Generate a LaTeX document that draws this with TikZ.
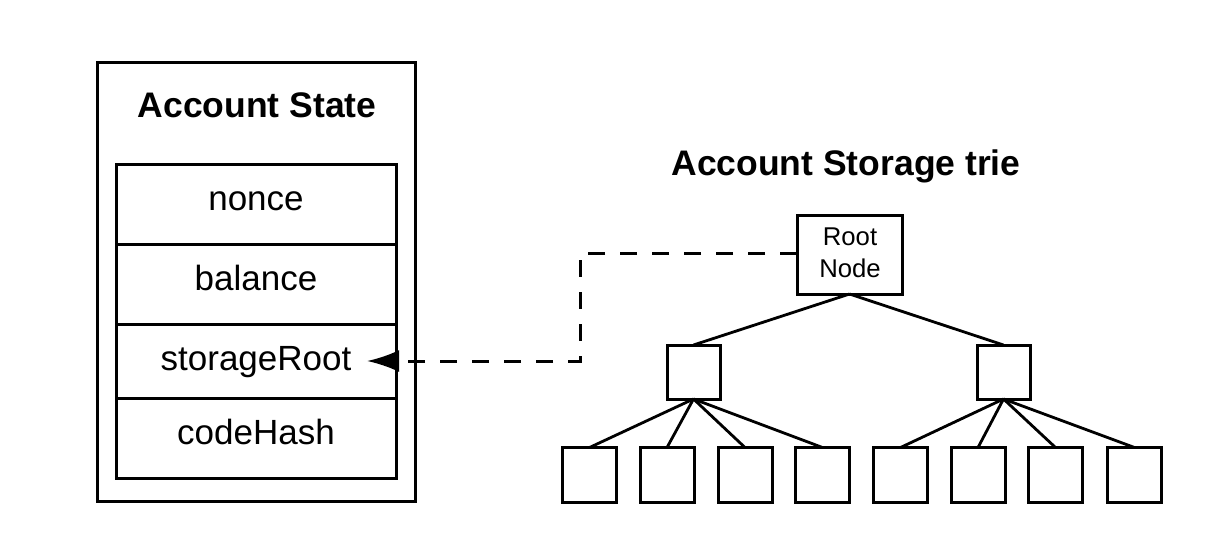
\documentclass[tikz,border=0pt]{standalone}
\usepackage{fontspec}
\setmainfont{Liberation Sans}
\usetikzlibrary{arrows.meta}
\begin{document}
\begin{tikzpicture}[x=1pt,y=-1pt,
  frame/.style={draw=black,line width=3pt},
  rowbox/.style={draw=black,line width=3pt,minimum width=280pt,inner sep=0pt,outer sep=0pt},
  rowtext/.style={font=\fontsize{35}{40}\selectfont,anchor=base,inner sep=0pt},
  titletext/.style={font=\fontsize{35.5}{40}\bfseries\selectfont,anchor=base,inner sep=0pt},
  treebox/.style={draw=black,line width=3pt,minimum width=52pt,minimum height=53pt,inner sep=0pt,outer sep=0pt},
  edge/.style={draw=black,line width=2.8pt},
  dashlink/.style={draw=black,line width=3pt,dash pattern=on 17pt off 15pt}
]
\useasboundingbox (0,0) rectangle (1217,549);
% outer frame
\node[frame,minimum width=318pt,minimum height=439pt,inner sep=0pt] (outer) at (256,282) {};
\node[titletext] (t1) at (257,117) {Account State};
% rows
\node[rowbox,minimum height=80pt] (r1) at (256,204) {};
\node[rowbox,minimum height=80pt] (r2) at (256,284) {};
\node[rowbox,minimum height=74pt] (r3) at (256,361) {};
\node[rowbox,minimum height=80pt] (r4) at (256,438) {};
\node[rowtext] (nonce) at (256,210) {nonce};
\node[rowtext] (bal) at (256,290) {balance};
\node[rowtext] (sr) at (256,370) {storageRoot};
\node[rowtext] (ch) at (256,444) {codeHash};
% tree
\node[titletext] (t2) at (846,175) {Account Storage trie};
\node[treebox,minimum width=105pt,minimum height=79pt] (root) at (849.5,254.5) {};
\node[font=\fontsize{25.7}{33}\selectfont,anchor=base,inner sep=0pt] (rl1) at (850,245) {Root};
\node[font=\fontsize{25.7}{33}\selectfont,anchor=base,inner sep=0pt] (rl2) at (850,277) {Node};
\node[treebox,minimum width=53pt,minimum height=54pt] (a) at (693.5,372) {};
\node[treebox,minimum width=53pt,minimum height=54pt] (b) at (1003.5,372) {};
\foreach \i/\x in {1/589.5,2/667,3/745,4/822.5,5/900.5,6/978,7/1055.5,8/1134.5}{
  \node[treebox,minimum width=54pt,minimum height=55pt] (l\i) at (\x,475) {};
}
\draw[edge] (root.south) -- (a.north);
\draw[edge] (root.south) -- (b.north);
\foreach \i in {1,2,3,4}{ \draw[edge] (a.south) -- (l\i.north); }
\foreach \i in {5,6,7,8}{ \draw[edge] (b.south) -- (l\i.north); }
% dashed link
\coordinate (tip) at (367,361);
\coordinate (c1) at (580,253);
\coordinate (c2) at (580,361);
\draw[dashlink,-{Latex[length=32pt,width=22pt]}] (root.west |- c1) -- (c1) -- (c2) -- (tip);
\end{tikzpicture}
\end{document}
